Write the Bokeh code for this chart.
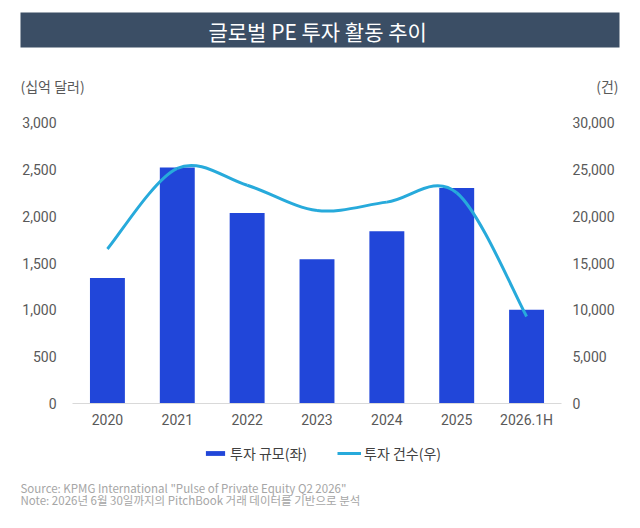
from bokeh.plotting import figure
from bokeh.models import (Range1d, LinearAxis, Label, BoxAnnotation, Legend, LegendItem,
                          ColumnDataSource, FixedTicker, NumeralTickFormatter)
from bokeh.embed import file_html
from bokeh.resources import INLINE

# ---------------- data ----------------
categories = ["2020", "2021", "2022", "2023", "2024", "2025", "2026.1H"]
invest_size = [1340, 2520, 2035, 1540, 1840, 2300, 1000]        # 투자 규모 (십억 달러, 좌축)
deal_count = [16500, 25100, 23300, 20600, 21500, 22500, 9300]   # 투자 건수 (건, 우축)
left_ticks = [0, 500, 1000, 1500, 2000, 2500, 3000]
right_ticks = [0, 5000, 10000, 15000, 20000, 25000, 30000]
title_text = "글로벌 PE 투자 활동  추이"
left_unit = "(십억 달러)"
right_unit = "(건)"
bar_label = "투자 규모(좌)"
line_label = "투자 건수(우)"
source_line = "Source: KPMG International \"Pulse of Private Equity Q2 2026\""
note_line = "Note: 2026년 6월 30일까지의 PitchBook 거래 데이터를 기반으로 분석"

BAR_COLOR = "#2146D9"
LINE_COLOR = "#27AADB"
TEXT_COLOR = "#595959"
KFONT = "Noto Sans CJK KR"
NFONT = "Roboto"

# page size and where the plotting area sits on the page (px)
W, H = 640, 528
FL, FR, FT, FB = 72, 561, 122, 403
LMAX, RMAX = 3000, 30000
ncat = len(categories)
cw = (FR - FL) / ncat                     # px per category
xpos = [i + 0.5 for i in range(ncat)]     # category centres

# the frame covers the whole canvas; ranges are set so that the data area lands on FL..FR / FT..FB
x_range = Range1d(-FL / cw, ncat + (W - FR) / cw)
y_range = Range1d(-(H - FB) / (FB - FT) * LMAX, FB / (FB - FT) * LMAX)
p = figure(width=W, height=H, x_range=x_range, y_range=y_range,
           output_backend="svg", toolbar_location=None, min_border=0)
p.extra_y_ranges = {"cnt": Range1d(-(H - FB) / (FB - FT) * RMAX, FB / (FB - FT) * RMAX)}
p.outline_line_color = None
p.background_fill_color = "white"
p.border_fill_color = "white"
p.xgrid.visible = False
p.ygrid.visible = False

src = ColumnDataSource(dict(x=xpos, cat=categories, size=invest_size, cnt=deal_count))
bars = p.vbar(x="x", top="size", bottom=0, width=0.5, source=src,
              fill_color=BAR_COLOR, line_color=None)

# smoothed line (cubic Bezier segments passing through every data point)
n = len(deal_count)
x0, y0, x1, y1, cx0, cy0, cx1, cy1 = [], [], [], [], [], [], [], []
for i in range(n - 1):
    ip = max(i - 1, 0)
    inn = min(i + 2, n - 1)
    x0.append(xpos[i]); y0.append(deal_count[i])
    x1.append(xpos[i + 1]); y1.append(deal_count[i + 1])
    cx0.append(xpos[i] + (xpos[i + 1] - xpos[ip]) / 6.0)
    cy0.append(deal_count[i] + (deal_count[i + 1] - deal_count[ip]) / 6.0)
    cx1.append(xpos[i + 1] - (xpos[inn] - xpos[i]) / 6.0)
    cy1.append(deal_count[i + 1] - (deal_count[inn] - deal_count[i]) / 6.0)
curve = p.bezier(x0=x0, y0=y0, x1=x1, y1=y1, cx0=cx0, cy0=cy0, cx1=cx1, cy1=cy1,
                 line_color=LINE_COLOR, line_width=3, y_range_name="cnt")


def style_axis(ax, standoff):
    ax.major_tick_line_color = None
    ax.minor_tick_line_color = None
    ax.major_tick_out = 0
    ax.major_tick_in = 0
    ax.major_label_standoff = standoff
    ax.major_label_text_font = NFONT
    ax.major_label_text_font_size = "14px"
    ax.major_label_text_color = TEXT_COLOR


# axes drawn at fixed data locations (they take no border space)
xa = p.xaxis[0]
xa.fixed_location = 0
xa.bounds = (0, ncat)
xa.ticker = FixedTicker(ticks=xpos)
xa.major_label_overrides = {x: c for x, c in zip(xpos, categories)}
style_axis(xa, 8)
xa.axis_line_color = "#D9D9D9"

ya = p.yaxis[0]
ya.fixed_location = 0
ya.ticker = FixedTicker(ticks=left_ticks)
ya.formatter = NumeralTickFormatter(format="0,0")
style_axis(ya, 16)
ya.axis_line_color = None

ra = LinearAxis(y_range_name="cnt", ticker=FixedTicker(ticks=right_ticks),
                formatter=NumeralTickFormatter(format="0,0"), fixed_location=ncat)
style_axis(ra, 11)
ra.axis_line_color = None
p.add_layout(ra, "right")

# header: title bar + unit labels (screen units: from the canvas' bottom-left)
p.add_layout(BoxAnnotation(left=20, right=619, top=H - 12, bottom=H - 47,
                           left_units="screen", right_units="screen",
                           top_units="screen", bottom_units="screen",
                           fill_color="#3B4E65", fill_alpha=1, line_color=None))
p.add_layout(Label(x=319.5, y=H - 30, x_units="screen", y_units="screen", text=title_text,
                   text_align="center", text_baseline="middle", text_color="white",
                   text_font=KFONT, text_font_size="21px"))
p.add_layout(Label(x=20, y=H - 85, x_units="screen", y_units="screen", text=left_unit,
                   text_align="left", text_baseline="middle", text_color=TEXT_COLOR,
                   text_font=KFONT, text_font_size="14px"))
p.add_layout(Label(x=618, y=H - 85, x_units="screen", y_units="screen", text=right_unit,
                   text_align="right", text_baseline="middle", text_color=TEXT_COLOR,
                   text_font=KFONT, text_font_size="14px"))

# legend (location = its bottom-left corner)
legend = Legend(items=[LegendItem(label=bar_label, renderers=[bars]),
                       LegendItem(label=line_label, renderers=[curve])],
                orientation="horizontal", location=(203, H - 463),
                glyph_width=24, glyph_height=6, label_standoff=3, spacing=30,
                padding=0, margin=0, border_line_alpha=0, background_fill_alpha=0,
                label_text_font=KFONT, label_text_font_size="14px", label_text_color="#404040")
p.add_layout(legend)

# footer: source / note
p.add_layout(Label(x=20, y=H - 487, x_units="screen", y_units="screen", text=source_line,
                   text_align="left", text_baseline="middle", text_color="#A6A6A6",
                   text_font=KFONT, text_font_size="11.5px"))
p.add_layout(Label(x=20, y=H - 499, x_units="screen", y_units="screen", text=note_line,
                   text_align="left", text_baseline="middle", text_color="#A6A6A6",
                   text_font=KFONT, text_font_size="11.5px"))

open("out.html", "w").write(file_html(p, INLINE))
